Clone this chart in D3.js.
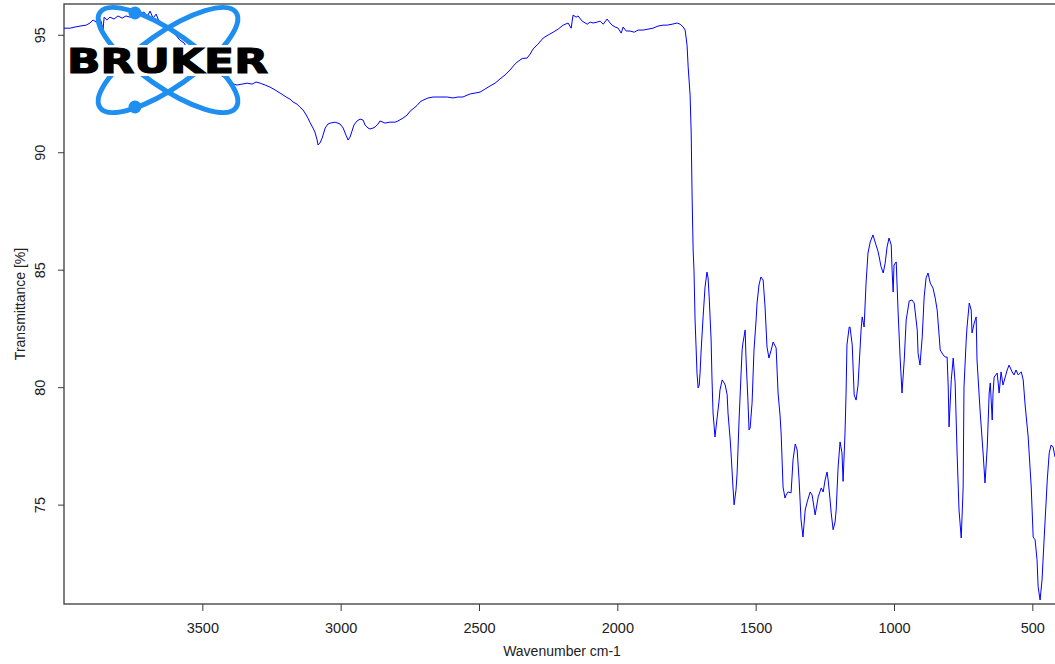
<!DOCTYPE html>
<html>
<head>
<meta charset="utf-8">
<script src="https://cdn.jsdelivr.net/npm/d3@7"></script>
<style>
  body { margin: 0; background: #fff; }
  svg { display: block; }
</style>
</head>
<body>
<div id="spectrum"></div>
<script>
// IR spectrum (cm-1 / %T)
const wavenumber = [
  4000,3978,3960,3942,3920,3906,3895,3884,3873,3866,
  3859,3855,3845,3834,3819,3805,3790,3776,3761,3743,
  3725,3711,3700,3689,3678,3667,3660,3653,3635,3617,
  3599,3581,3566,3552,3534,3516,3498,3479,3461,3447,
  3429,3414,3400,3385,3375,3357,3338,3320,3306,3291,
  3273,3255,3237,3219,3197,3183,3172,3158,3147,3136,
  3129,3118,3111,3100,3093,3085,3082,3075,3067,3056,
  3046,3038,3020,3002,2991,2981,2973,2966,2959,2952,
  2941,2930,2919,2912,2901,2894,2883,2876,2865,2858,
  2847,2840,2822,2803,2793,2775,2760,2749,2735,2724,
  2713,2702,2684,2666,2641,2615,2594,2576,2558,2543,
  2532,2514,2496,2478,2460,2442,2424,2406,2388,2373,
  2362,2344,2326,2315,2305,2287,2268,2250,2232,2214,
  2196,2178,2167,2160,2149,2142,2127,2109,2098,2088,
  2073,2062,2051,2037,2026,2019,2008,1997,1986,1979,
  1968,1954,1939,1925,1907,1889,1871,1853,1835,1820,
  1802,1784,1773,1762,1755,1748,1744,1737,1733,1730,
  1726,1723,1719,1715,1712,1708,1704,1701,1697,1690,
  1683,1676,1672,1668,1661,1658,1654,1647,1639,1632,
  1629,1621,1614,1610,1603,1600,1592,1589,1582,1578,
  1571,1567,1560,1553,1549,1546,1538,1535,1528,1524,
  1520,1513,1506,1498,1495,1488,1481,1473,1466,1459,
  1452,1444,1437,1426,1419,1412,1408,1401,1394,1390,
  1383,1372,1365,1357,1350,1343,1336,1329,1321,1314,
  1303,1296,1292,1285,1274,1263,1256,1249,1242,1238,
  1231,1227,1220,1213,1209,1202,1195,1188,1184,1177,
  1173,1170,1162,1159,1151,1144,1137,1130,1123,1119,
  1115,1108,1101,1094,1086,1076,1065,1057,1047,1039,
  1032,1025,1018,1010,1007,1003,1000,992,985,978,
  971,963,956,945,935,927,916,913,906,898,
  891,884,877,869,859,851,844,837,833,822,
  815,808,804,801,793,786,779,772,765,757,
  750,747,739,736,728,721,718,710,703,700,
  689,678,671,663,656,652,645,642,638,627,
  620,613,606,598,591,584,573,566,559,551,
  540,533,526,515,504,497,490,483,479,472,
  465,457,446,439,432,425,418
];
const transmittance = [
  95.28,95.28,95.33,95.37,95.41,95.50,95.63,95.54,95.71,95.58,
  95.20,95.75,95.63,95.75,95.67,95.80,95.71,95.80,95.75,95.84,
  95.88,95.97,95.75,96.01,95.71,95.88,95.67,95.54,95.37,95.20,
  95.03,94.77,94.65,94.35,94.14,94.01,93.84,93.67,93.50,93.41,
  93.24,93.16,93.07,92.90,92.86,92.90,92.94,92.90,92.99,92.94,
  92.86,92.77,92.65,92.52,92.35,92.26,92.14,92.05,91.92,91.80,
  91.67,91.45,91.27,91.03,90.86,90.52,90.31,90.39,90.60,91.03,
  91.20,91.24,91.28,91.20,91.03,90.73,90.52,90.65,90.90,91.16,
  91.33,91.41,91.37,91.16,91.03,90.99,91.03,91.07,91.20,91.33,
  91.28,91.24,91.28,91.28,91.33,91.45,91.58,91.75,91.88,91.99,
  92.14,92.22,92.31,92.35,92.35,92.35,92.31,92.35,92.35,92.43,
  92.48,92.52,92.56,92.69,92.82,92.94,93.12,93.29,93.50,93.71,
  93.84,93.99,94.01,94.18,94.39,94.60,94.86,94.99,95.11,95.24,
  95.41,95.50,95.28,95.84,95.75,95.80,95.58,95.45,95.54,95.50,
  95.54,95.58,95.45,95.67,95.50,95.41,95.33,95.28,95.07,95.33,
  95.16,95.16,95.11,95.20,95.20,95.24,95.28,95.37,95.41,95.41,
  95.45,95.50,95.45,95.33,95.20,94.56,93.63,92.43,90.82,88.26,
  85.84,84.99,82.86,81.58,80.60,79.97,80.09,80.60,81.58,82.99,
  84.26,84.90,84.65,83.84,82.01,80.43,78.90,77.88,78.73,79.45,
  79.88,80.31,80.18,80.09,79.67,78.90,77.75,77.20,75.75,74.99,
  75.63,76.35,78.60,80.52,81.58,81.88,82.43,81.28,79.45,78.18,
  78.26,79.33,81.58,82.94,83.58,84.35,84.69,84.56,83.41,81.71,
  81.24,81.58,81.92,81.67,79.75,78.82,78.05,75.75,75.28,75.41,
  75.54,75.50,76.90,77.58,77.33,76.05,74.35,73.62,74.77,75.11,
  75.54,75.41,75.11,74.56,75.33,75.71,75.54,76.05,76.39,76.05,
  75.20,74.65,73.93,74.26,74.77,76.60,77.67,77.20,75.99,78.05,
  79.88,81.80,82.56,82.56,81.80,79.67,79.45,80.09,81.58,82.43,
  82.99,82.56,84.43,85.71,86.18,86.48,86.05,85.75,85.14,84.86,
  85.28,85.97,86.35,86.05,84.99,84.05,85.20,85.33,83.16,81.28,
  79.75,81.16,82.86,83.67,83.71,83.58,82.43,81.45,80.94,82.14,
  83.84,84.65,84.86,84.43,84.22,83.79,83.28,82.22,81.58,81.37,
  81.28,81.28,80.01,78.31,80.31,81.24,80.18,77.20,74.77,73.58,
  75.75,80.01,82.01,82.56,83.58,83.28,82.31,82.73,82.99,81.16,
  79.03,77.20,75.92,77.45,79.75,80.18,78.60,79.75,80.43,80.60,
  79.75,80.65,80.09,80.43,80.73,80.94,80.65,80.52,80.73,80.52,
  80.65,80.31,79.24,77.88,75.75,73.62,73.50,72.65,71.50,70.94,
  71.79,73.62,76.05,77.20,77.54,77.45,77.03
];

const xTicks = [3500, 3000, 2500, 2000, 1500, 1000, 500];
const yTicks = [75, 80, 85, 90, 95];
const xLabel = "Wavenumber cm-1";
const yLabel = "Transmittance [%]";

const W = 1055, H = 664;
const margin = { top: 4, right: -5, bottom: 60, left: 64 }; // plot box runs a bit past the right edge
const width = W - margin.left - margin.right;
const height = H - margin.top - margin.bottom;
const font = "'Liberation Sans', Arial, sans-serif";
const axisColor = "#3a3a3a";

const svg = d3.select("#spectrum")
    .append("svg")
    .attr("width", W)
    .attr("height", H);

const g = svg.append("g")
    .attr("transform", `translate(${margin.left}, ${margin.top})`);

// scales: wavenumber decreasing left to right
const x = d3.scaleLinear().domain([4000, 400]).range([0, width]);
const y = d3.scaleLinear().domain([70.77, 96.31]).range([height, 0]);

// bottom axis
const xAxis = g.append("g")
    .attr("transform", `translate(0, ${height})`)
    .call(d3.axisBottom(x).tickValues(xTicks).tickFormat(d3.format("d")).tickSize(7).tickSizeOuter(0));
xAxis.select(".domain").remove();
xAxis.selectAll("line").attr("stroke", axisColor);
xAxis.selectAll("text")
    .attr("y", 29).attr("dy", null)
    .style("font-family", font).style("font-size", "14.5px").style("fill", "#222");

// left axis, labels turned like R does
const yAxis = g.append("g")
    .call(d3.axisLeft(y).tickValues(yTicks).tickFormat(d3.format("d")).tickSize(6).tickSizeOuter(0));
yAxis.select(".domain").remove();
yAxis.selectAll("line").attr("stroke", axisColor);
yAxis.selectAll("text")
    .attr("x", null).attr("dy", null)
    .attr("text-anchor", "middle")
    .attr("transform", "translate(-19, 0) rotate(-90)")
    .style("font-family", font).style("font-size", "14.5px").style("fill", "#222");

// box
g.append("rect")
    .attr("width", width).attr("height", height)
    .attr("fill", "none").attr("stroke", axisColor).attr("stroke-width", 1.3);

// axis titles
svg.append("text")
    .attr("x", margin.left + width / 2)
    .attr("y", 656)
    .attr("text-anchor", "middle")
    .style("font-family", font).style("font-size", "14px").style("fill", "#222")
    .text(xLabel);

svg.append("text")
    .attr("transform", `translate(24.5, ${margin.top + height / 2}) rotate(-90)`)
    .attr("text-anchor", "middle")
    .style("font-family", font).style("font-size", "14px").style("fill", "#222")
    .text(yLabel);

// Bruker logo in the corner
const logo = svg.append("g");
const logoBlue = "#1e8ef0";
[35, -35].forEach(a => {
    logo.append("ellipse")
        .attr("transform", `translate(168, 60) rotate(${a})`)
        .attr("rx", 83).attr("ry", 27)
        .attr("fill", "none").attr("stroke", logoBlue).attr("stroke-width", 5);
});
logo.append("circle").attr("cx", 135).attr("cy", 13).attr("r", 6.5).attr("fill", logoBlue);
logo.append("circle").attr("cx", 135).attr("cy", 107).attr("r", 6.5).attr("fill", logoBlue);
logo.append("rect").attr("x", 66).attr("y", 45).attr("width", 204).attr("height", 31).attr("fill", "#fff");
logo.append("text")
    .attr("x", 67).attr("y", 73)
    .attr("textLength", 201).attr("lengthAdjust", "spacingAndGlyphs")
    .style("font-family", "'DejaVu Sans', sans-serif")
    .style("font-weight", "bold").style("font-size", "34px")
    .attr("fill", "#000").attr("stroke", "#000").attr("stroke-width", 1.2)
    .text("BRUKER");

// spectrum trace
const data = d3.zip(wavenumber, transmittance);

g.append("clipPath").attr("id", "plot-clip")
    .append("rect").attr("width", width).attr("height", height);

const line = d3.line()
    .x(d => x(d[0]))
    .y(d => y(d[1]));

g.append("path")
    .datum(data)
    .attr("clip-path", "url(#plot-clip)")
    .attr("fill", "none")
    .attr("stroke", "#0000ff")
    .attr("stroke-width", 1)
    .attr("stroke-linejoin", "round")
    .attr("d", line);
</script>
</body>
</html>
